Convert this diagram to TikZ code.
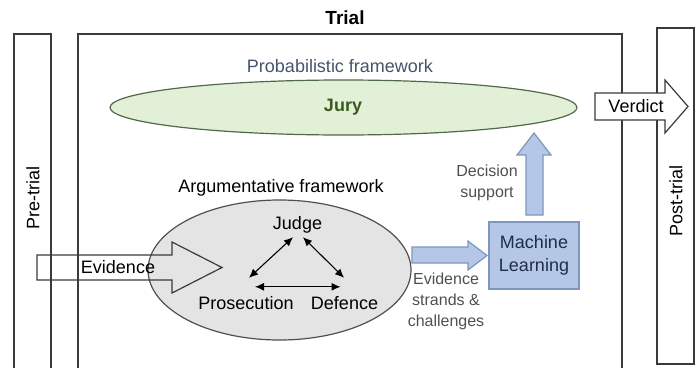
\documentclass[tikz,border=0pt]{standalone}
\usepackage{fontspec}
\setmainfont{Liberation Sans}
\usetikzlibrary{arrows.meta}

\definecolor{framegrey}{HTML}{3A3A3A}
\definecolor{mlfill}{HTML}{B4C7E7}
\definecolor{mledge}{HTML}{7F96BC}
\definecolor{mltext}{HTML}{1F2D48}
\definecolor{juryfill}{HTML}{E3F0D8}
\definecolor{juryedge}{HTML}{4E6B45}
\definecolor{jurytext}{HTML}{3B5A1F}
\definecolor{argfill}{HTML}{E4E4E4}
\definecolor{argedge}{HTML}{505050}
\definecolor{slatetext}{HTML}{44546A}
\definecolor{notetext}{HTML}{505050}

\begin{document}
\begin{tikzpicture}[x=1pt,y=-1pt,
  frame/.style={draw=framegrey, line width=1.2pt},
  lbl/.style={inner sep=0pt, font=\fontsize{18}{21}\selectfont},
  note/.style={inner sep=0pt, align=center, text=notetext,
    font=\fontsize{16}{21}\selectfont},
  actor/.style={lbl, text height=13pt, text depth=4pt},
  whitearrow/.style={draw=framegrey, line width=1.2pt, line join=miter},
  bluearrow/.style={draw=mledge, fill=mlfill, line width=1.2pt},
  dbl/.style={line width=1.1pt,
    {Latex[length=9pt,width=8pt]}-{Latex[length=9pt,width=8pt]}}
]
\useasboundingbox (0,0) rectangle (700,367);
\clip (0,0) rectangle (700,367);

% stage frames (pre-trial and trial run off the bottom edge)
\draw[frame] (14,400) -- (14,34) -- (51,34) -- (51,400);
\draw[frame] (78,400) -- (78,34) -- (622,34) -- (622,400);
\draw[frame] (657,28) rectangle (694,364);

\node[lbl, font=\fontsize{19}{22}\selectfont\bfseries] (trial) at (345,18) {Trial};
\node[lbl, rotate=90] (pretrial) at (33,198) {Pre-trial};
\node[lbl, rotate=90] (posttrial) at (676,201) {Post-trial};

% probabilistic framework
\node[lbl, text=slatetext] (prob) at (340,66) {Probabilistic framework};
\draw[draw=juryedge, fill=juryfill, line width=1.2pt] (343.5,107.5) ellipse [x radius=233.5, y radius=27.5];
\node[lbl, text=jurytext, font=\fontsize{18}{21}\selectfont\bfseries] (jury) at (343,107.5) {Jury};

% argumentative framework
\node[lbl] (arg) at (281,188) {Argumentative framework};
\draw[draw=argedge, fill=argfill, line width=1.2pt] (279.5,270) ellipse [x radius=131.5, y radius=70];

\node[actor] (judge) at (297.5,224.7) {Judge};
\node[actor] (pros) at (246,305) {Prosecution};
\node[actor] (def) at (344.5,305) {Defence};

\draw[dbl] ([xshift=-4.5pt,yshift=-3.8pt]judge.south) -- ([xshift=3pt,yshift=18.5pt]pros.north);
\draw[dbl] ([xshift=5.5pt,yshift=-3.8pt]judge.south) -- ([xshift=-0.5pt,yshift=18.5pt]def.north);
\draw[dbl] ([xshift=9pt,yshift=9.5pt]pros.north) -- ([xshift=-4pt,yshift=9.5pt]def.north);

% evidence entering the trial (outline only)
\draw[whitearrow] (37,255) -- (172,255) -- (172,242) -- (222,267.5) -- (172,293) -- (172,280) -- (37,280) -- cycle;
\node[lbl] (evidence) at (118,267.5) {Evidence};

% verdict leaving the trial
\draw[whitearrow, fill=white] (595,93) -- (665,93) -- (665,80) -- (688,106.5) -- (665,133) -- (665,120) -- (595,120) -- cycle;
\node[lbl] (verdict) at (636,106.5) {Verdict};

% machine learning support
\node[draw=mledge, fill=mlfill, line width=1.2pt, minimum width=90pt, minimum height=67pt,
  align=center, text=mltext, font=\fontsize{18}{23}\selectfont] (ml) at (534,255.5) {Machine\\Learning};

\draw[bluearrow] (412,247) -- (468,247) -- (468,241) -- (487,255.5) -- (468,270) -- (468,263) -- (412,263) -- cycle;
\node[note] (strands) at (446,301) {Evidence\\strands \&\\challenges};

\draw[bluearrow] (526,215) -- (526,155) -- (517,155) -- (534,133) -- (551,155) -- (543,155) -- (543,215) -- cycle;
\node[note] (decision) at (487,182.5) {Decision\\support};
\end{tikzpicture}
\end{document}
